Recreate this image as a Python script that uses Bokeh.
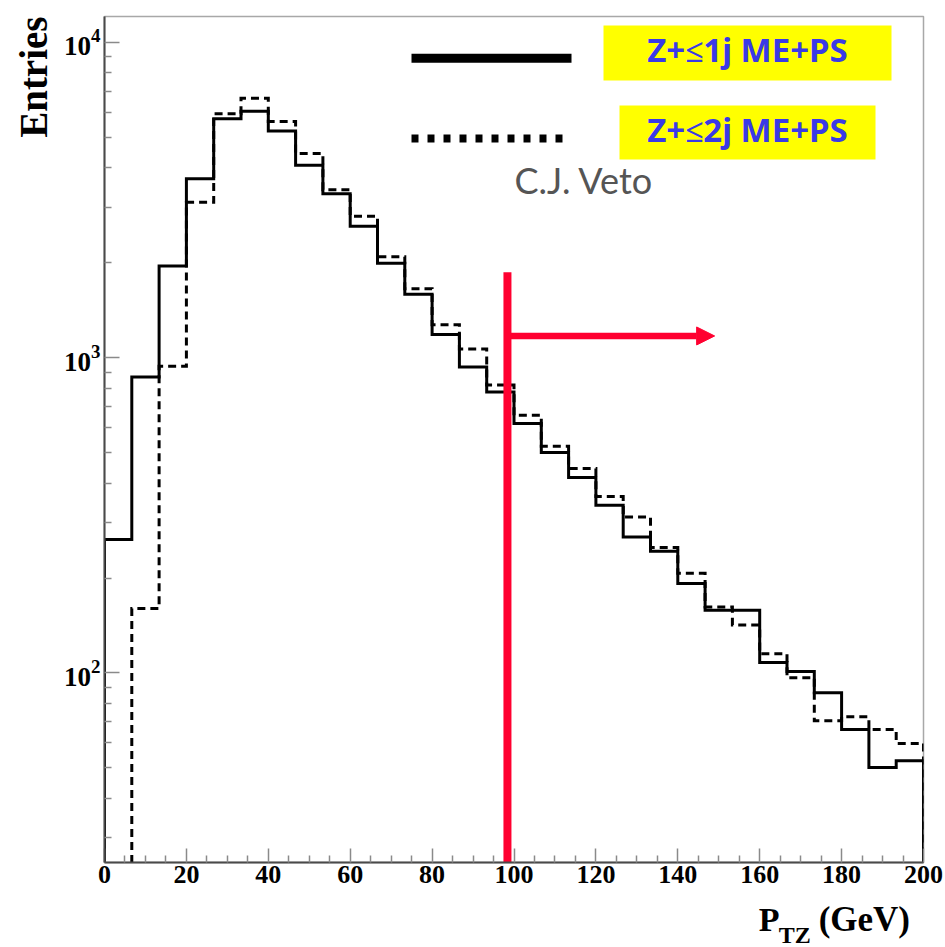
import numpy as np
from bokeh.plotting import figure
from bokeh.layouts import column
from bokeh.models import Range1d, FixedTicker, Label, Arrow, NormalHead, Title
from bokeh.core.properties import value
from bokeh.embed import file_html
from bokeh.resources import INLINE

# ---------------- data ----------------
x_lo, x_hi, n_bins = 0.0, 200.0, 30
edges = np.linspace(x_lo, x_hi, n_bins + 1)

# Z+<=1j ME+PS (solid)
solid_vals = [265, 868, 1950, 3690, 5720, 6035, 5225, 4076, 3307, 2611,
              1990, 1587, 1183, 934, 778, 618, 500, 417, 340, 270,
              243, 192, 158, 158, 108, 101, 86.5, 66.2, 50.1, 52.7]
# Z+<=2j ME+PS (dashed); first bin is below the visible range
below = 1.0
dashed_vals = [below, 160, 938, 3107, 5929, 6645, 5605, 4438, 3405, 2808,
               2087, 1654, 1272, 1065, 818, 656, 523, 445, 363, 312,
               250, 207, 162, 142, 115, 96.5, 70.5, 72.6, 66.2, 59.8]

cut_gev = 98.4          # veto cut position
cut_top = 1864
arrow_level = 1171
arrow_end = 149.0

x_major = [0, 20, 40, 60, 80, 100, 120, 140, 160, 180, 200]
x_minor = [v for v in range(0, 201, 5) if v % 20 != 0]
y_major = [100, 1000, 10000]
y_minor = [m * 10 ** k for k in (1, 2, 3, 4) for m in range(2, 10)]

legend_labels = ["Z+\u22641j ME+PS", "Z+\u22642j ME+PS"]
veto_text = "C.J. Veto"
y_title = "Entries"
x_title_main, x_title_sub, x_title_unit = "P", "TZ", "(GeV)"

# ---------------- geometry helpers ----------------
W, H = 945, 947
FL, FR, FT, FB = 104, 923, 16, 862
MAIN_H = 897
log_lo, log_hi = 1.399, 4.0815


def px_x(X):
    return float(x_lo + (X - FL) / (FR - FL) * (x_hi - x_lo))


def px_y(Y):
    return float(10 ** (log_lo + (FB - Y) / (FB - FT) * (log_hi - log_lo)))


def outline(vals):
    xs, ys = [float(edges[0])], [below]
    for i, v in enumerate(vals):
        xs += [float(edges[i]), float(edges[i + 1])]
        ys += [v, v]
    xs.append(float(edges[-1]))
    ys.append(below)
    return xs, ys


SERIF = "Liberation Serif"

p = figure(width=W, height=MAIN_H, x_range=Range1d(x_lo, x_hi),
           y_range=Range1d(10 ** log_lo, 10 ** log_hi), y_axis_type="log",
           output_backend="svg", toolbar_location=None,
           min_border_left=FL, min_border_right=W - FR,
           min_border_top=FT, min_border_bottom=MAIN_H - FB)
p.grid.visible = False
p.background_fill_color = "white"
p.border_fill_color = "white"
p.outline_line_color = "#a8a8a8"
p.outline_line_width = 1.5

xa = p.xaxis[0]
xa.ticker = FixedTicker(ticks=x_major, minor_ticks=x_minor)
ya = p.yaxis[0]
ya.ticker = FixedTicker(ticks=y_major, minor_ticks=y_minor)
for ax, maj in ((xa, 14), (ya, 15)):
    ax.major_tick_in = maj
    ax.major_tick_out = 0
    ax.minor_tick_in = 7
    ax.minor_tick_out = 0
    ax.axis_line_color = "#4a4a4a"
    ax.axis_line_width = 2
    ax.major_tick_line_color = "#8a8a8a"
    ax.minor_tick_line_color = "#8a8a8a"
    ax.major_tick_line_width = 1.5
    ax.minor_tick_line_width = 1.5
    ax.major_label_text_font = SERIF
    ax.major_label_text_font_style = "bold"
    ax.major_label_text_color = "black"
xa.major_label_text_font_size = "26px"
xa.major_label_standoff = 3
ya.major_label_text_font_size = "27px"
ya.major_label_standoff = 4

p.add_layout(Title(text=y_title, align="right", text_font=SERIF, text_font_style="bold",
                   text_font_size="39px", text_color="black", standoff=13, offset=0),
             "left")

# histograms
sx, sy = outline(solid_vals)
p.line(sx, sy, line_color="black", line_width=3, line_join="miter")
dx, dy = outline(dashed_vals)
p.line(dx, dy, line_color="black", line_width=3, line_dash="8 5", line_join="miter")

# red cut + arrow
p.segment(x0=[cut_gev], y0=[below], x1=[cut_gev], y1=[cut_top],
          line_color="#ff0030", line_width=8)
p.add_layout(Arrow(end=NormalHead(size=18, fill_color="#ff0030", line_color="#ff0030"),
                   x_start=cut_gev, y_start=arrow_level, x_end=arrow_end, y_end=arrow_level,
                   line_color="#ff0030", line_width=6.5))

# legend
p.line([px_x(411), px_x(571)], [px_y(57.7)] * 2, line_color="black", line_width=9)
p.line([px_x(411), px_x(563)], [px_y(138)] * 2, line_color="black", line_width=8,
       line_dash="7 9")
p.quad(left=[px_x(603), px_x(619)], right=[px_x(891), px_x(875)],
       top=[px_y(25), px_y(105)], bottom=[px_y(80), px_y(159)],
       fill_color="#ffff00", line_color=None)
for txt, base in zip(legend_labels, (49, 129)):
    p.add_layout(Label(x=px_x(747), y=px_y(base), text=txt, text_align="center",
                       text_baseline="alphabetic", text_font="Noto Sans",
                       text_font_style="bold", text_font_size="33px",
                       text_color="#3a3ae6"))
p.add_layout(Label(x=px_x(514), y=px_y(179), text=veto_text, text_align="left",
                   text_baseline="alphabetic", text_font="Lato",
                   text_font_size="36px", text_color="#555555"))

# x-axis title strip (P_TZ (GeV)) in pixel coordinates
LH = H - MAIN_H
q = figure(width=W, height=LH, x_range=Range1d(0, W), y_range=Range1d(LH, 0),
           output_backend="svg", toolbar_location=None,
           x_axis_location=None, y_axis_location=None,
           min_border=0, min_border_left=0, min_border_right=0,
           min_border_top=0, min_border_bottom=0)
q.grid.visible = False
q.outline_line_color = None
q.background_fill_color = "white"
q.border_fill_color = "white"
q.text(x=[755], y=[919 - MAIN_H], text=[x_title_main], text_font=value(SERIF),
       text_font_style="bold", text_font_size="34px", text_color="black",
       text_align="left", text_baseline="alphabetic")
q.text(x=[778], y=[934 - MAIN_H], text=[x_title_sub], text_font=value(SERIF),
       text_font_style="bold", text_font_size="24px", text_color="black",
       text_align="left", text_baseline="alphabetic")
q.text(x=[824], y=[919 - MAIN_H], text=[x_title_unit], text_font=value(SERIF),
       text_font_style="bold", text_font_size="35px", text_color="black",
       text_align="left", text_baseline="alphabetic")

layout = column(p, q, spacing=0)
open("out.html", "w").write(file_html(layout, INLINE))
